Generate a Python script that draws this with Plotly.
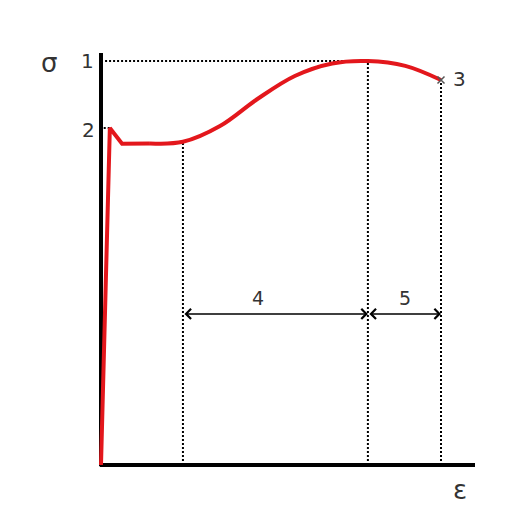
import plotly.graph_objects as go

# stress-strain curve, strain normalised to fracture, stress to ultimate strength
eps_elastic = [0.0, 0.026, 0.062, 0.144]
sig_elastic = [0.0, 0.834, 0.795, 0.796]

eps_hard = [0.144, 0.241, 0.35, 0.46, 0.57, 0.68, 0.785, 0.895, 1.0]
sig_hard = [0.796, 0.800, 0.839, 0.906, 0.963, 0.994, 1.0, 0.988, 0.953]

# marked points: 1 = ultimate, 2 = yield, 3 = fracture
eps_yield, sig_yield = 0.026, 0.834
eps_plateau_end, sig_plateau_end = 0.241, 0.800
eps_ult, sig_ult = 0.785, 1.0
eps_frac, sig_frac = 1.0, 0.953

red = '#e3171c'
dot = '2px,2px'

fig = go.Figure()

# dotted guides
fig.add_trace(go.Scatter(x=[0.012, eps_ult], y=[sig_ult, sig_ult], mode='lines',
                         line=dict(color='black', width=2, dash=dot)))
fig.add_trace(go.Scatter(x=[0.008, eps_yield], y=[sig_yield, sig_yield], mode='lines',
                         line=dict(color='black', width=2, dash=dot)))
for ex, ey in [(eps_plateau_end, sig_plateau_end), (eps_ult, sig_ult), (eps_frac, sig_frac)]:
    fig.add_trace(go.Scatter(x=[ex, ex], y=[0, ey], mode='lines',
                             line=dict(color='black', width=2, dash=dot)))

# axes
fig.add_trace(go.Scatter(x=[0, 0], y=[-0.003, 1.02], mode='lines', line=dict(color='black', width=4)))
fig.add_trace(go.Scatter(x=[-0.003, 1.1], y=[0, 0], mode='lines', line=dict(color='black', width=4)))

# curve
fig.add_trace(go.Scatter(x=eps_elastic, y=sig_elastic, mode='lines',
                         line=dict(color=red, width=4)))
fig.add_trace(go.Scatter(x=eps_hard, y=sig_hard, mode='lines',
                         line=dict(color=red, width=4, shape='spline', smoothing=1.0)))
fig.add_trace(go.Scatter(x=[eps_frac], y=[sig_frac], mode='markers',
                         marker=dict(symbol='x-thin', size=7, line=dict(color='#555', width=1.5))))

# dimension arrows
dim_y = 0.374
for x0, x1 in [(eps_plateau_end, eps_ult), (eps_ult, eps_frac)]:
    fig.add_annotation(x=x1, y=dim_y, ax=x0, ay=dim_y, xref='x', yref='y', axref='x', ayref='y',
                       text='', showarrow=True, arrowhead=4, startarrowhead=4, arrowside='end+start',
                       arrowsize=1.3, startarrowsize=1.3, arrowwidth=1.5, arrowcolor='black')

labels = [
    ('σ', -0.153, 0.995, 26),
    ('1', -0.041, 1.0, 20),
    ('2', -0.038, 0.829, 20),
    ('3', 1.053, 0.955, 20),
    ('4', 0.462, 0.413, 19),
    ('5', 0.894, 0.413, 19),
    ('ε', 1.056, -0.062, 26),
]
for txt, lx, ly, sz in labels:
    fig.add_annotation(x=lx, y=ly, text=txt, showarrow=False,
                       font=dict(family='DejaVu Sans', size=sz, color='#333'))

# page has an 8px body margin, so ranges are shifted by 8px to line up
fig.update_layout(
    width=510, height=512,
    margin=dict(l=0, r=0, t=0, b=0),
    paper_bgcolor='white', plot_bgcolor='white',
    showlegend=False,
    xaxis=dict(range=[-93 / 340, 417 / 340], visible=False, fixedrange=True),
    yaxis=dict(range=[-55 / 404, 457 / 404], visible=False, fixedrange=True),
)

fig.write_html("out.html")
